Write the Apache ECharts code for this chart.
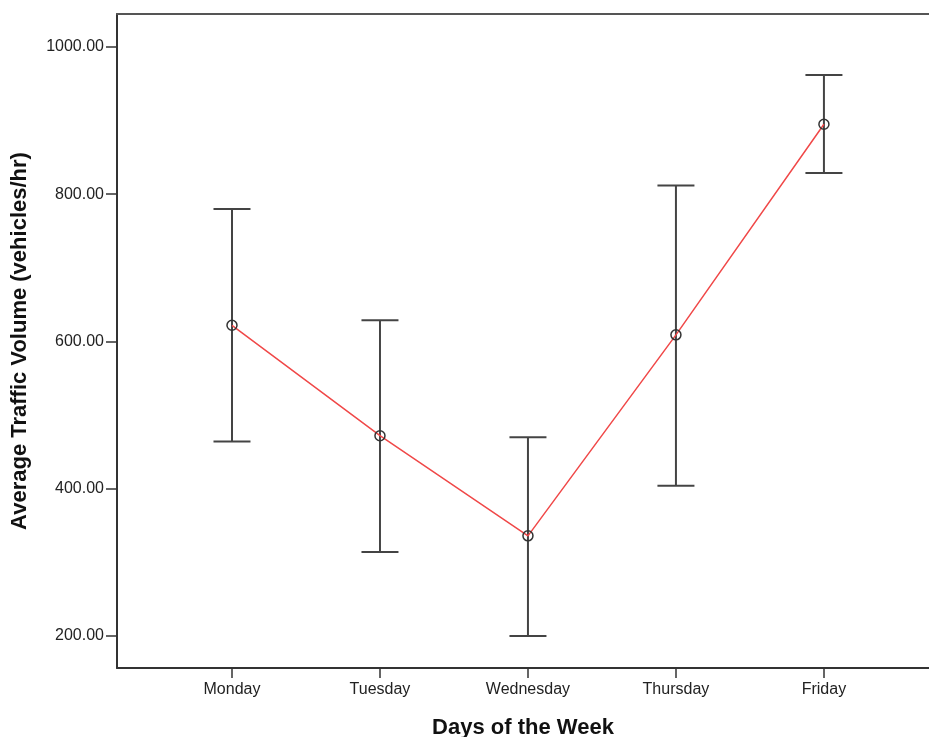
<!DOCTYPE html>
<html>
<head>
<meta charset="utf-8">
<script src="https://cdn.jsdelivr.net/npm/echarts@6/dist/echarts.min.js"></script>
<style>
  html, body { margin: 0; padding: 0; background: #fff; }
  #chart { width: 929px; height: 737px; }
</style>
</head>
<body>
<div id="chart"></div>
<script>
// Mean hourly traffic volume per weekday with error bars
const days = ['Monday', 'Tuesday', 'Wednesday', 'Thursday', 'Friday'];
const means = [622, 472, 336, 609, 895];
const upper = [780, 629, 470, 812, 962];
const lower = [464, 314, 200, 404, 829];
const yTicks = [200, 400, 600, 800, 1000];
const xPositions = [1, 2, 3, 4, 5];

const axisColor = '#333';
const font = 'Liberation Sans, Arial, sans-serif';

const chart = echarts.init(document.getElementById('chart'));

const barData = xPositions.map((x, i) => [x, lower[i], upper[i]]);
const lineData = xPositions.map((x, i) => [x, means[i]]);

chart.setOption({
  animation: false,
  backgroundColor: '#fff',
  grid: { left: 117, top: 14, right: 0, bottom: 69, outerBoundsMode: 'none', containLabel: false },
  xAxis: [{
    type: 'value',
    min: 0.223,
    max: 5.71,
    name: 'Days of the Week',
    nameLocation: 'middle',
    nameGap: 49,
    nameTextStyle: { fontFamily: font, fontSize: 22, fontWeight: 'bold', color: '#111' },
    axisLine: { show: true, onZero: false, lineStyle: { color: axisColor, width: 2 } },
    axisTick: { show: true, customValues: xPositions, length: 10, lineStyle: { color: axisColor, width: 1.5 } },
    axisLabel: {
      customValues: xPositions,
      formatter: v => days[Math.round(v) - 1] || '',
      margin: 14,
      fontFamily: font, fontSize: 16, color: '#222'
    },
    splitLine: { show: false }
  }, {
    type: 'value',
    position: 'top',
    min: 0.223,
    max: 5.71,
    axisLine: { show: true, onZero: false, lineStyle: { color: '#555', width: 2 } },
    axisTick: { show: false },
    axisLabel: { show: false },
    splitLine: { show: false }
  }],
  yAxis: {
    type: 'value',
    min: 156.5,
    max: 1044.8,
    name: 'Average Traffic Volume (vehicles/hr)',
    nameLocation: 'middle',
    nameGap: 86,
    nameTextStyle: { fontFamily: font, fontSize: 22, fontWeight: 'bold', color: '#111' },
    axisLine: { show: true, onZero: false, lineStyle: { color: axisColor, width: 2 } },
    axisTick: { show: true, customValues: yTicks, length: 11, lineStyle: { color: axisColor, width: 1.5 } },
    axisLabel: {
      customValues: yTicks,
      formatter: v => v.toFixed(2),
      margin: 13,
      fontFamily: font, fontSize: 16, color: '#222'
    },
    splitLine: { show: false }
  },
  series: [{
    type: 'custom',
    data: barData,
    z: 2,
    renderItem: function (params, api) {
      const x = api.value(0);
      const lo = api.coord([x, api.value(1)]);
      const hi = api.coord([x, api.value(2)]);
      const half = 18.5;
      const style = { stroke: '#444', lineWidth: 2, fill: null };
      return {
        type: 'group',
        children: [
          { type: 'line', shape: { x1: lo[0], y1: lo[1], x2: hi[0], y2: hi[1] }, style },
          { type: 'line', shape: { x1: hi[0] - half, y1: hi[1], x2: hi[0] + half, y2: hi[1] }, style },
          { type: 'line', shape: { x1: lo[0] - half, y1: lo[1], x2: lo[0] + half, y2: lo[1] }, style }
        ]
      };
    }
  }, {
    type: 'line',
    data: lineData,
    z: 3,
    symbol: 'circle',
    symbolSize: 10,
    lineStyle: { color: '#f04848', width: 1.5 },
    itemStyle: { color: 'rgba(0,0,0,0)', borderColor: '#333', borderWidth: 1.5 }
  }]
});
</script>
</body>
</html>
